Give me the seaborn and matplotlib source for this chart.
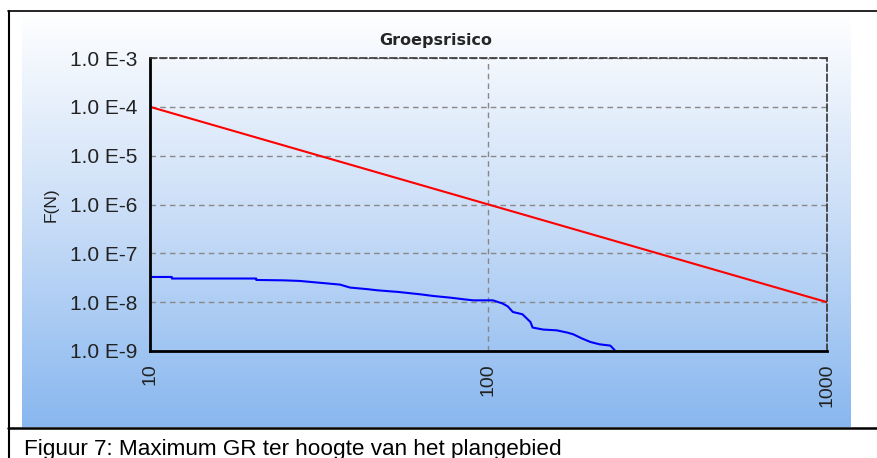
import numpy as np
import pandas as pd
import seaborn as sns
import matplotlib.pyplot as plt
from matplotlib.lines import Line2D
from matplotlib.colors import LinearSegmentedColormap

# values
norm_n = [10, 1000]
norm_f = [1e-4, 1e-8]

gr_n = [10, 11.6, 11.6, 20.6, 20.6, 24.7, 27.7, 36.4, 39.0, 44.1, 46.9, 54.1, 62.8,
        68.6, 76.9, 84.1, 90.0, 103, 110, 114, 118, 126, 133, 135, 145, 159, 171,
        178, 189, 200, 213, 229, 233, 237]
gr_f = [3.28e-8, 3.28e-8, 3.05e-8, 3.05e-8, 2.85e-8, 2.8e-8, 2.72e-8, 2.29e-8, 1.99e-8,
        1.84e-8, 1.75e-8, 1.62e-8, 1.45e-8, 1.34e-8, 1.24e-8, 1.15e-8, 1.09e-8,
        1.09e-8, 9.4e-9, 8.2e-9, 6.3e-9, 5.65e-9, 3.93e-9, 3.02e-9, 2.75e-9, 2.65e-9,
        2.38e-9, 2.2e-9, 1.8e-9, 1.53e-9, 1.37e-9, 1.29e-9, 1.14e-9, 1.0e-9]

y_ticks = [1e-9, 1e-8, 1e-7, 1e-6, 1e-5, 1e-4, 1e-3]
y_labels = ["1.0 E-9", "1.0 E-8", "1.0 E-7", "1.0 E-6", "1.0 E-5", "1.0 E-4", "1.0 E-3"]
x_ticks = [10, 100, 1000]
x_labels = ["10", "100", "1000"]

sns.set_style("white")
plt.rcParams['font.family'] = ['Liberation Sans', 'DejaVu Sans']

W, H = 878, 458
fig = plt.figure(figsize=(W / 100, H / 100), dpi=100)

# gradient panel behind the chart
bg = fig.add_axes([22 / W, 1 - 427 / H, 829 / W, 415 / H])
cmap = LinearSegmentedColormap.from_list("bg", ["#ffffff", "#c9ddf7", "#88b7ef"])
bg.imshow(np.linspace(0, 1, 256).reshape(-1, 1), aspect="auto", cmap=cmap,
          extent=[0, 1, 0, 1], origin="upper")
bg.set_axis_off()

ax = fig.add_axes([150 / W, 1 - 351 / H, 677 / W, 293 / H])
ax.patch.set_alpha(0)

sns.lineplot(x=norm_n, y=norm_f, ax=ax, color="#ff0000", linewidth=1.5)
sns.lineplot(x=gr_n, y=gr_f, ax=ax, color="#0000ff", linewidth=1.5,
             estimator=None, sort=False)

ax.set_xscale("log")
ax.set_yscale("log")
ax.set_xlim(10, 1000)
ax.set_ylim(1e-9, 1e-3)
ax.set_xticks(x_ticks)
ax.set_xticklabels(x_labels, rotation=90, fontsize=14, color="#222222")
ax.set_yticks(y_ticks)
ax.set_yticklabels(y_labels, fontsize=15, color="#222222")
ax.minorticks_off()
ax.tick_params(axis="both", length=5, width=1, color="#888888", pad=4)
ax.grid(True, which="major", color="#888888", linestyle=(0, (4, 3)), linewidth=1)

for side in ["left", "bottom"]:
    ax.spines[side].set_color("black")
    ax.spines[side].set_linewidth(2)
for side in ["top", "right"]:
    ax.spines[side].set_color("#333333")
    ax.spines[side].set_linewidth(1.2)
    ax.spines[side].set_linestyle((0, (4, 2)))

ax.set_ylabel("F(N)", fontsize=12.5, color="#222222", labelpad=8)
ax.set_xlabel("")

fig.text(436 / W, 1 - 41 / H, "Groepsrisico", ha="center", va="center",
         fontsize=11.5, fontweight="bold", family="DejaVu Sans")

# outer frame
fig.add_artist(Line2D([8 / W, 1], [1 - 11 / H, 1 - 11 / H], color="black", lw=1.2))
fig.add_artist(Line2D([8.5 / W, 8.5 / W], [0, 1 - 11 / H], color="black", lw=1.5))
fig.add_artist(Line2D([8 / W, 1], [1 - 428 / H, 1 - 428 / H], color="black", lw=1.8))

fig.text(24 / W, 1 - 450 / H, "Figuur 7: Maximum GR ter hoogte van het plangebied",
         ha="left", va="center", fontsize=16.2, color="black")

fig.savefig("out.png", dpi=100)
